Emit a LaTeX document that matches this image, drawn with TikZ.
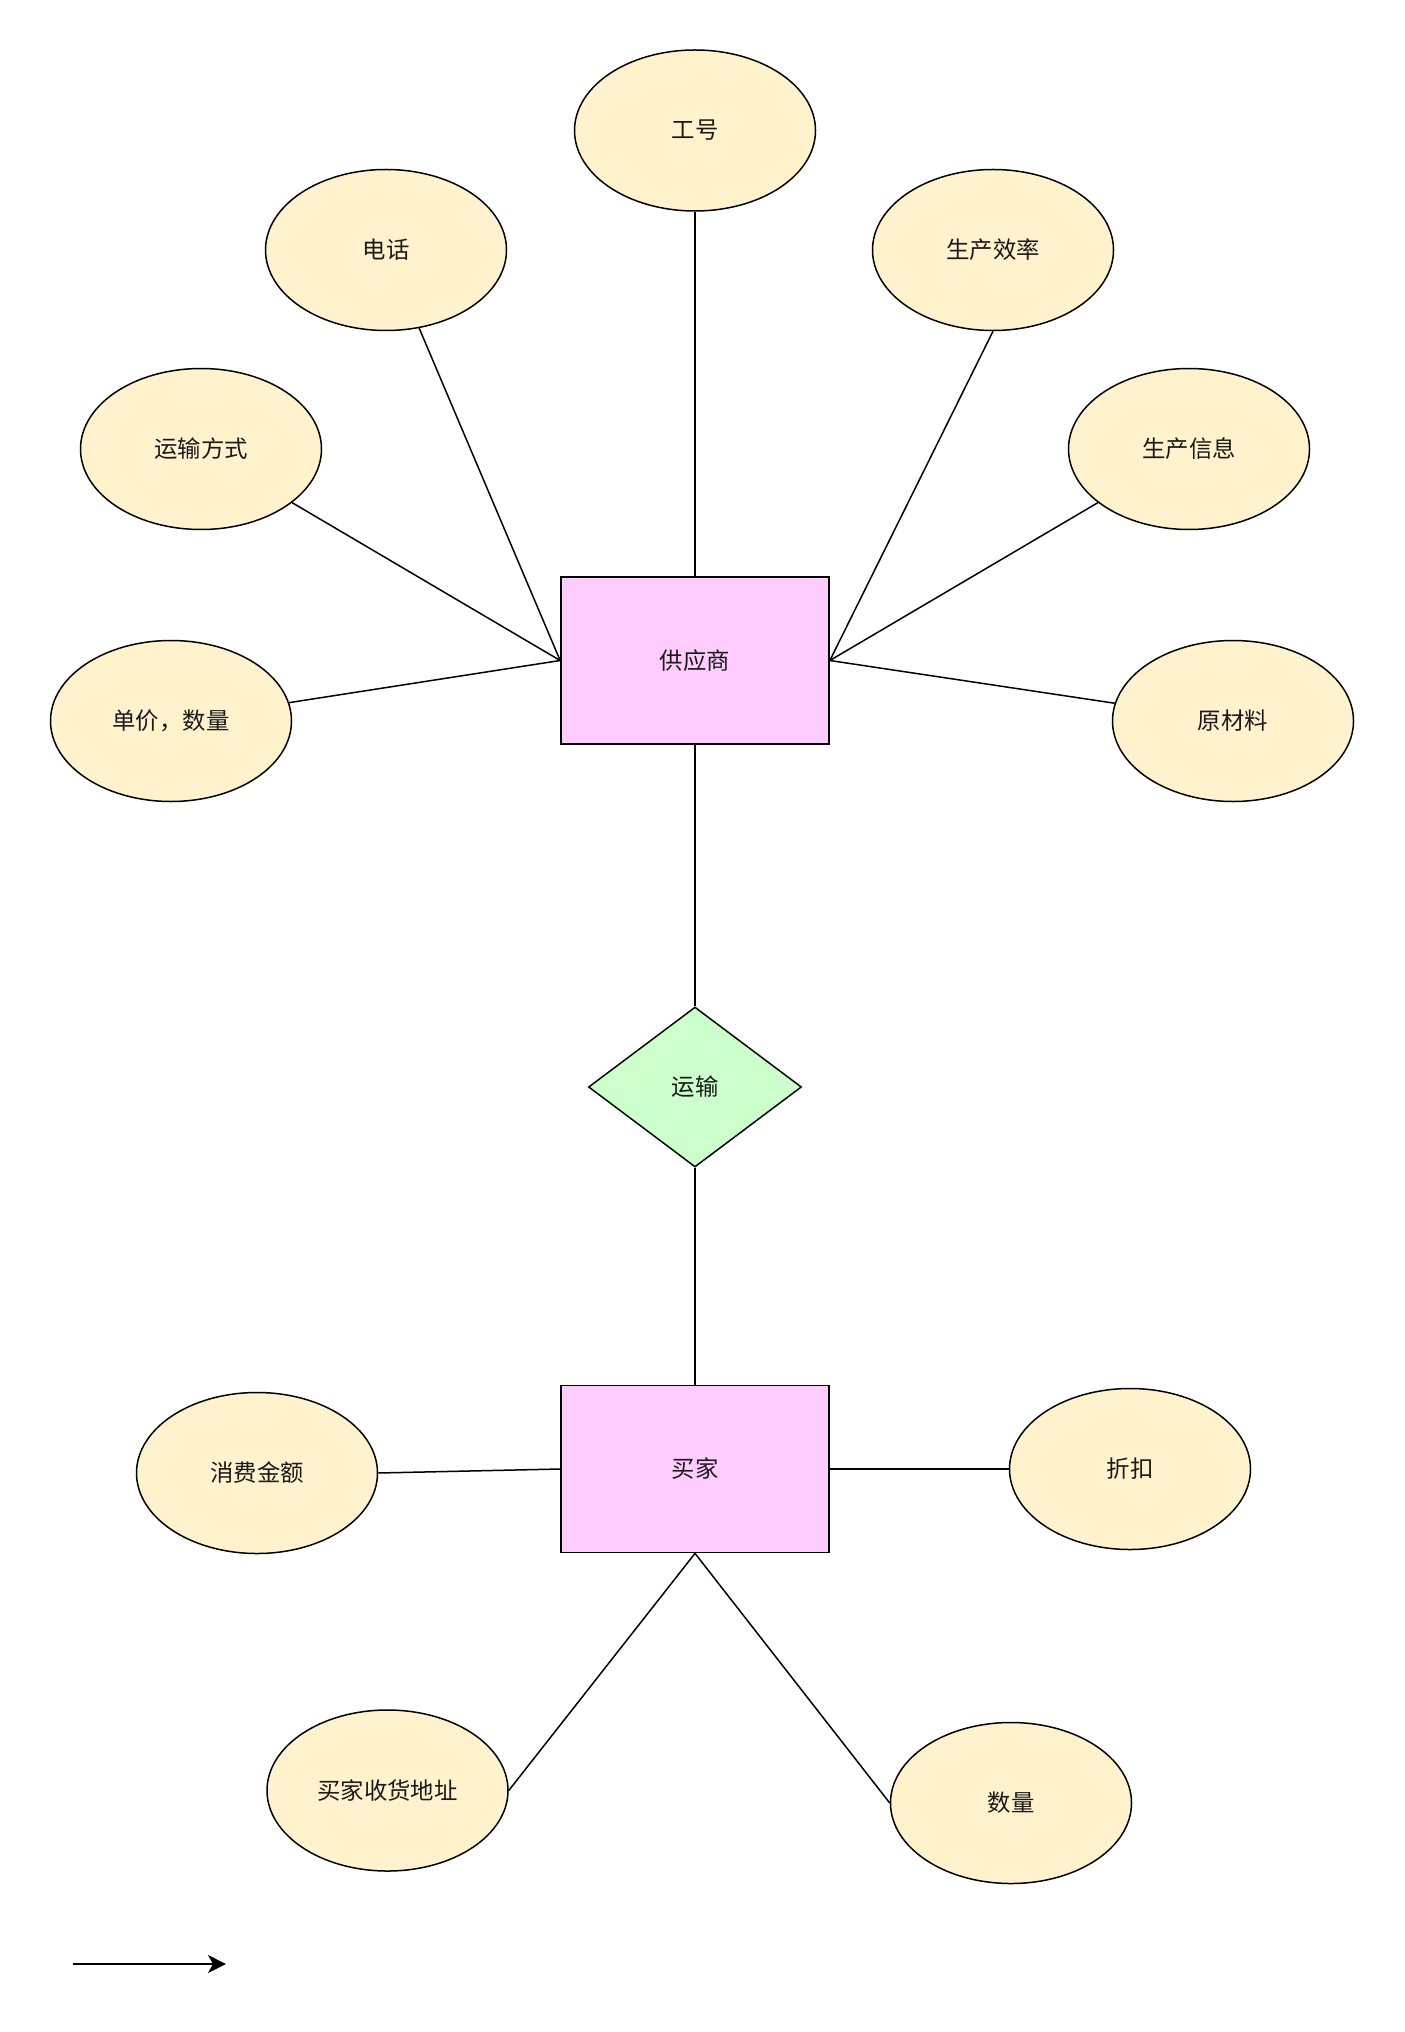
\documentclass[tikz,border=0pt]{standalone}
\usepackage{fontspec}
\setmainfont{Noto Sans CJK SC}
\usetikzlibrary{shapes.geometric,arrows.meta}
\definecolor{attrfill}{HTML}{FFF2CC}
\definecolor{entfill}{HTML}{FFCCFF}
\definecolor{relfill}{HTML}{CCFFCC}
\definecolor{txt}{HTML}{1A1A1A}
\begin{document}
\begin{tikzpicture}[x=0.5pt,y=-0.5pt,
  attr/.style={ellipse,draw=black,fill=attrfill,line width=0.75pt,minimum width=120.5pt,minimum height=80.5pt,inner sep=0pt,text=txt,font=\fontsize{11.7pt}{14pt}\selectfont},
  ent/.style={rectangle,draw=black,fill=entfill,line width=0.85pt,minimum width=134pt,minimum height=83.5pt,inner sep=0pt,text=txt,font=\fontsize{11.7pt}{14pt}\selectfont},
  rel/.style={diamond,draw=black,fill=relfill,line width=0.75pt,minimum width=106.5pt,minimum height=80pt,inner sep=0pt,aspect=1.33,text=txt,font=\fontsize{11.7pt}{14pt}\selectfont},
  conn/.style={draw=black,line width=0.75pt}]
\useasboundingbox (0,0) rectangle (1404,2032);
\node[ent] (sup) at (695,660.5) {供应商};
\node[ent] (buy) at (695,1469) {买家};
\node[rel] (ship) at (695,1087) {运输};
\node[attr] (gh) at (695,130.5) {工号};
\node[attr] (dh) at (386,250) {电话};
\node[attr] (eff) at (993,250) {生产效率};
\node[attr] (ysfs) at (201,449) {运输方式};
\node[attr] (info) at (1189,449) {生产信息};
\node[attr] (price) at (171,721) {单价，数量};
\node[attr] (raw) at (1233,721) {原材料};
\node[attr] (cost) at (257,1473) {消费金额};
\node[attr] (disc) at (1130,1469) {折扣};
\node[attr] (addr) at (387.5,1790.5) {买家收货地址};
\node[attr] (num) at (1011,1803) {数量};
\draw[conn] (gh) -- (sup.north);
\draw[conn] (dh) -- (sup.west);
\draw[conn] (ysfs) -- (sup.west);
\draw[conn] (price) -- (sup.west);
\draw[conn] (eff.south) -- (sup.east);
\draw[conn] (info) -- (sup.east);
\draw[conn] (raw) -- (sup.east);
\draw[conn] (sup.south) -- (ship.north);
\draw[conn] (ship.south) -- (buy.north);
\draw[conn] (cost.east) -- (buy.west);
\draw[conn] (disc.west) -- (buy.east);
\draw[conn] (addr.east) -- (buy.south);
\draw[conn] (num.west) -- (buy.south);
\coordinate (a1) at (73,1964);
\coordinate (a2) at (226,1964);
\draw[conn,-{Stealth[length=9pt,width=9pt,inset=2.5pt]}] (a1) -- (a2);
\end{tikzpicture}
\end{document}
